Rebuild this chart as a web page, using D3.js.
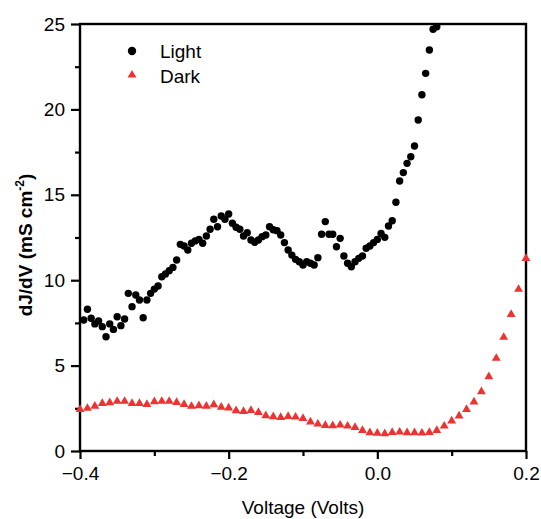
<!DOCTYPE html>
<html>
<head>
<meta charset="utf-8">
<script src="https://cdn.jsdelivr.net/npm/d3@7"></script>
<style>
  html, body { margin: 0; padding: 0; background: #fff; }
  svg { display: block; }
  text { font-family: "Liberation Sans", Arial, sans-serif; fill: #000; }
</style>
</head>
<body>
<svg id="chart" width="541" height="519"></svg>
<script>
// Differential conductance under illumination (0.005 V steps) and in the dark (0.01 V steps)
const lightVoltage = d3.range(0, 96).map(i => +(-0.395 + i * 0.005).toFixed(3));
const lightValues = [
  7.67, 8.3, 7.77, 7.44, 7.61, 7.28, 6.69, 7.44, 7.12, 7.86,
  7.34, 7.73, 9.23, 8.45, 9.13, 8.84, 7.8, 8.84, 9.23, 9.48,
  9.66, 10.2, 10.36, 10.56, 10.75, 11.18, 12.1, 12.0, 11.77, 12.16,
  12.3, 12.39, 12.16, 12.59, 12.98, 13.57, 13.13, 13.76, 13.57, 13.88,
  13.33, 13.1, 12.98, 12.59, 12.78, 12.35, 12.22, 12.35, 12.55, 12.65,
  13.13, 12.95, 12.9, 12.65, 12.2, 11.77, 11.47, 11.22, 11.08, 10.89,
  11.08, 10.99, 10.89, 11.32, 12.69, 13.43, 12.69, 12.69, 11.96, 12.45,
  11.42, 10.99, 10.79, 11.08, 11.28, 11.42, 11.87, 12.0, 12.2, 12.39,
  12.74, 12.51, 13.17, 13.48, 14.56, 15.81, 16.3, 16.84, 17.23, 17.86,
  19.38, 20.86, 22.11, 23.48, 24.69, 24.84
];

const darkVoltage = d3.range(0, 61).map(i => +(-0.4 + i * 0.01).toFixed(2));
const darkValues = [
  2.44, 2.5, 2.63, 2.79, 2.83, 2.91, 2.91, 2.79, 2.79, 2.73,
  2.89, 2.91, 2.91, 2.85, 2.73, 2.62, 2.65, 2.63, 2.71, 2.57,
  2.52, 2.36, 2.32, 2.38, 2.26, 2.07, 2.01, 1.97, 2.03, 1.99,
  1.91, 1.7, 1.58, 1.5, 1.48, 1.52, 1.46, 1.38, 1.21, 1.07,
  1.04, 1.02, 1.09, 1.11, 1.07, 1.07, 1.05, 1.09, 1.21, 1.46,
  1.76, 2.05, 2.44, 2.87, 3.47, 4.35, 5.43, 6.66, 8.0, 9.47,
  11.28
];

const xMajorTicks = [-0.4, -0.2, 0.0, 0.2];
const xMinorTicks = [-0.3, -0.1, 0.1];
const yMajorTicks = [0, 5, 10, 15, 20, 25];
const yMinorTicks = [2.5, 7.5, 12.5, 17.5, 22.5];

const seriesNames = ["Light", "Dark"];

const lightPoints = lightVoltage.map((v, i) => ({ v, g: lightValues[i] }));
const darkPoints = darkVoltage.map((v, i) => ({ v, g: darkValues[i] }));

const svg = d3.select("#chart");
const plotLeft = 80, plotRight = 526, plotTop = 24, plotBottom = 451;

const x = d3.scaleLinear().domain([-0.4, 0.2]).range([plotLeft, plotRight]);
const y = d3.scaleLinear().domain([0, 25]).range([plotBottom, plotTop]);

const red = "#ee3131";

// axes
const fontSize = 19;
const gx = svg.append("g").attr("transform", `translate(0,${plotBottom})`)
  .call(d3.axisBottom(x).tickValues(xMajorTicks).tickSize(8).tickPadding(10)
    .tickFormat(d3.format(".1f")));
const gxm = svg.append("g").attr("transform", `translate(0,${plotBottom})`)
  .call(d3.axisBottom(x).tickValues(xMinorTicks).tickSize(5).tickFormat(""));
const gy = svg.append("g").attr("transform", `translate(${plotLeft},0)`)
  .call(d3.axisLeft(y).tickValues(yMajorTicks).tickSize(9).tickPadding(6)
    .tickFormat(d3.format("d")));
const gym = svg.append("g").attr("transform", `translate(${plotLeft},0)`)
  .call(d3.axisLeft(y).tickValues(yMinorTicks).tickSize(5).tickFormat(""));

[gx, gxm, gy, gym].forEach(g => {
  g.select(".domain").remove();
  g.selectAll(".tick line").attr("stroke", "#000").attr("stroke-width", 2.2);
  g.selectAll(".tick text")
    .style("font-size", fontSize + "px")
    .style("font-family", "'Liberation Sans', Arial, sans-serif")
    .attr("fill", "#000");
});
gx.selectAll(".tick text").attr("y", 0).attr("dy", "1.5em");

// frame
svg.append("rect")
  .attr("x", plotLeft).attr("y", plotTop)
  .attr("width", plotRight - plotLeft).attr("height", plotBottom - plotTop)
  .attr("fill", "none").attr("stroke", "#000").attr("stroke-width", 2.4);

// dark series: triangles
const tri = d3.symbol().type(d3.symbolTriangle).size(34);
svg.append("g").selectAll("path").data(darkPoints).join("path")
  .attr("d", tri)
  .attr("transform", d => `translate(${x(d.v)},${y(d.g)})`)
  .attr("fill", red);

// light series: filled circles
svg.append("g").selectAll("circle").data(lightPoints).join("circle")
  .attr("cx", d => x(d.v)).attr("cy", d => y(d.g))
  .attr("r", 3.7).attr("fill", "#000");

// legend
const legend = svg.append("g");
legend.append("circle").attr("cx", 132).attr("cy", 51).attr("r", 4.2).attr("fill", "#000");
legend.append("path").attr("d", tri).attr("transform", "translate(132,75)").attr("fill", red);
legend.append("text").attr("x", 160).attr("y", 58).style("font-size", fontSize + "px").text(seriesNames[0]);
legend.append("text").attr("x", 160).attr("y", 83).style("font-size", fontSize + "px").text(seriesNames[1]);

// axis titles
svg.append("text")
  .attr("x", (plotLeft + plotRight) / 2).attr("y", 514)
  .attr("text-anchor", "middle")
  .style("font-size", fontSize + "px")
  .text("Voltage (Volts)");

const yTitle = svg.append("text")
  .attr("transform", "translate(32,245) rotate(-90)")
  .attr("text-anchor", "middle")
  .style("font-size", fontSize + "px")
  .style("font-weight", "bold");
yTitle.append("tspan").text("dJ/dV (mS cm");
yTitle.append("tspan").attr("dy", -8).style("font-size", "12px").text("-2");
yTitle.append("tspan").attr("dy", 8).text(")");
</script>
</body>
</html>
